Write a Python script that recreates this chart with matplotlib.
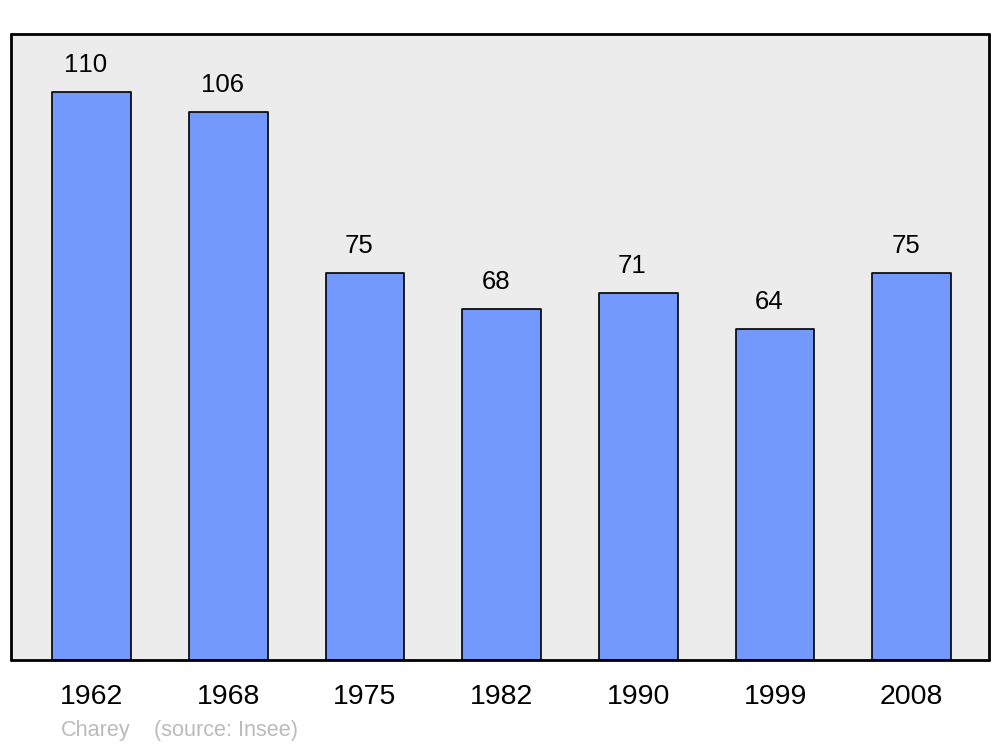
import matplotlib
matplotlib.use('Agg')
import numpy as np
from matplotlib import pyplot as plt

plt.rcParams['font.family'] = ['Liberation Sans', 'DejaVu Sans']
plt.rcParams['text.kerning_factor'] = 8  # reference has no kerning ("110")

# data
years = ['1962', '1968', '1975', '1982', '1990', '1999', '2008']
population = [110, 106, 75, 68, 71, 64, 75]
town = 'Charey'
source = '(source: Insee)'

fig = plt.figure(figsize=(10, 7.47), dpi=100)
ax = fig.add_axes([0.011, 0.1165, 0.978, 0.838])
ax.set_facecolor('#ececec')

x = np.arange(len(years))
bars = ax.bar(x, population, width=0.575, color='#7399ff', edgecolor='black',
              linewidth=1.2, zorder=2)
for b in bars:
    b.set_joinstyle('round')

# value labels above each bar
for xi, v in zip(x, population):
    ax.annotate(str(v), (xi, v), xytext=(-4.3, 19.5), textcoords='offset points',
                ha='center', va='center', fontsize=18.5)

ax.set_xlim(-0.59, 6.565)
ax.set_ylim(0, 121.2)
ax.set_xticks(x)
ax.set_xticklabels(years, fontsize=20.5)
ax.tick_params(axis='x', length=0, pad=17)
ax.set_yticks([])
for s in ax.spines.values():
    s.set_linewidth(2)
    s.set_capstyle('round')
    s.set_joinstyle('round')

fig.text(0.061, 0.022, town, fontsize=15.6, color='#bbbbbb', ha='left', va='center')
fig.text(0.154, 0.022, source, fontsize=15.6, color='#bbbbbb', ha='left', va='center')

fig.savefig('out.png', dpi=100)
